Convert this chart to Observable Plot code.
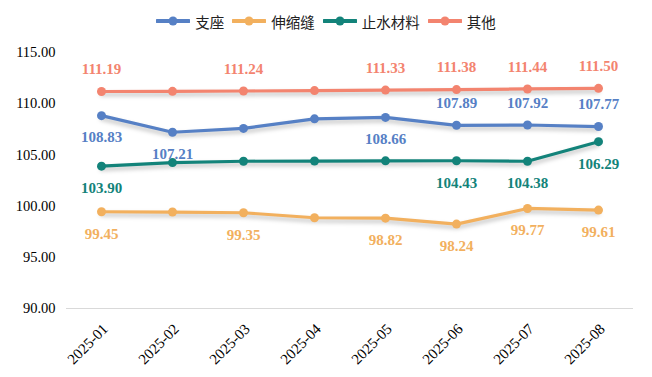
<!DOCTYPE html>
<html>
<head>
<meta charset="utf-8">
<script src="https://cdn.jsdelivr.net/npm/d3@7"></script>
<script src="https://cdn.jsdelivr.net/npm/@observablehq/plot@0.6"></script>
<style>
  body { margin: 0; background: #fff; }
  #legend { height: 38px; display: flex; justify-content: center; align-items: center; padding-top: 4px; box-sizing: border-box;
    font-family: "Noto Sans CJK SC", sans-serif; font-size: 14.5px; color: #222; }
  .item { display: flex; align-items: center; margin: 0 4px; }
  .item span { margin-left: 5px; }
  g[aria-label="line"] path { filter: drop-shadow(0px 3px 2px rgba(0,0,0,0.25)); }
</style>
</head>
<body>
<div id="legend"></div>
<div id="chart"></div>
<script>
const months = ["2025-01","2025-02","2025-03","2025-04","2025-05","2025-06","2025-07","2025-08"];
const seriesNames = ["支座","伸缩缝","止水材料","其他"];
const seriesColors = ["#5680C5","#F2B05E","#13837A","#F3846F"];
const zhizuo = [108.83,107.21,107.59,108.52,108.66,107.89,107.92,107.77];
const shensuofeng = [99.45,99.42,99.35,98.86,98.82,98.24,99.77,99.61];
const zhishui = [103.90,104.25,104.38,104.40,104.42,104.43,104.38,106.29];
const qita = [111.19,111.21,111.24,111.28,111.33,111.38,111.44,111.50];
// label placement per point: 1 above, -1 below, 0 none
const zhizuoLabels = [-1,-1,0,0,-1,1,1,1];
const shensuofengLabels = [-1,0,-1,0,-1,-1,-1,-1];
const zhishuiLabels = [-1,0,0,0,0,-1,-1,-1];
const qitaLabels = [1,0,1,0,1,1,1,1];
const yTicks = [90,95,100,105,110,115];

const values = [zhizuo, shensuofeng, zhishui, qita];
const labelFlags = [zhizuoLabels, shensuofengLabels, zhishuiLabels, qitaLabels];
const data = [];
seriesNames.forEach((s, i) => months.forEach((m, j) => data.push({series: s, month: m, value: values[i][j], lab: labelFlags[i][j]})));

// legend
const legend = document.getElementById("legend");
seriesNames.forEach((s, i) => {
  const d = document.createElement("div");
  d.className = "item";
  d.innerHTML = `<svg width="34" height="10"><line x1="1" y1="5" x2="33" y2="5" stroke="${seriesColors[i]}" stroke-width="4" stroke-linecap="round"/><circle cx="17" cy="5" r="4.5" fill="${seriesColors[i]}"/></svg><span>${s}</span>`;
  legend.appendChild(d);
});

const serif = "'Liberation Serif', 'Times New Roman', Times, serif";
const labelFont = {fontFamily: serif, fontSize: 15, fontWeight: "bold"};

const chart = Plot.plot({
  width: 652,
  height: 339,
  marginTop: 14,
  marginBottom: 69,
  marginLeft: 66,
  marginRight: 19,
  style: {fontFamily: serif, fontSize: "14.5px", color: "#000", background: "#fff"},
  x: {type: "point", domain: months, padding: 0.48, label: null},
  y: {domain: [90, 115], label: null},
  color: {domain: seriesNames, range: seriesColors},
  marks: [
    Plot.axisY({ticks: yTicks, tickFormat: d3.format(".2f"), tickSize: 0, tickPadding: 11, fontSize: 14.5, fontFamily: serif, fill: "#000", label: null}),
    Plot.axisX({tickSize: 0, tickRotate: -45, tickPadding: 18, dx: 4, fontSize: 15, fontFamily: serif, fill: "#000", label: null}),
    Plot.ruleY([90], {stroke: "#d9d9d9", strokeWidth: 1}),
    Plot.line(data, {x: "month", y: "value", z: "series", stroke: "series", strokeWidth: 3.2}),
    Plot.dot(data, {x: "month", y: "value", fill: "series", r: 4.5}),
    Plot.text(data.filter(d => d.lab === 1), {x: "month", y: "value", text: d => d.value.toFixed(2), fill: "series", dy: -22, ...labelFont}),
    Plot.text(data.filter(d => d.lab === -1), {x: "month", y: "value", text: d => d.value.toFixed(2), fill: "series", dy: 22, ...labelFont})
  ]
});
document.getElementById("chart").appendChild(chart);
</script>
</body>
</html>
